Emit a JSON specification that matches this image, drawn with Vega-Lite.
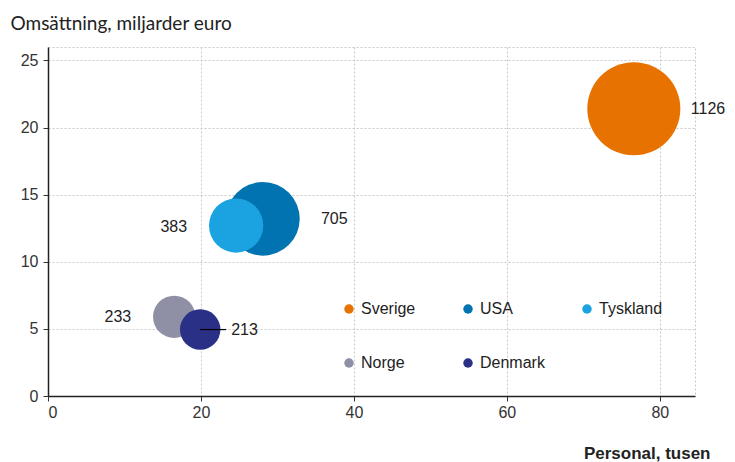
{
  "$schema": "https://vega.github.io/schema/vega-lite/v6.json",
  "width": 647,
  "height": 349,
  "autosize": "none",
  "padding": {"left": 48, "top": 47, "right": 40, "bottom": 66},
  "background": "white",
  "config": {
    "view": {"stroke": "#c8c8c8", "strokeDash": [2, 2], "strokeWidth": 1},
    "font": "Liberation Sans"
  },
  "data": {
    "values": [
      {"land": "Sverige", "personal": 76.6, "omsattning": 21.4, "storlek": 1126},
      {"land": "USA", "personal": 28.1, "omsattning": 13.2, "storlek": 705},
      {"land": "Tyskland", "personal": 24.6, "omsattning": 12.7, "storlek": 383},
      {"land": "Norge", "personal": 16.5, "omsattning": 5.9, "storlek": 233},
      {"land": "Denmark", "personal": 19.9, "omsattning": 4.95, "storlek": 213}
    ]
  },
  "encoding": {
    "x": {
      "field": "personal", "type": "quantitative",
      "scale": {"domain": [0, 84.6], "nice": false},
      "axis": {
        "values": [0, 20, 40, 60, 80],
        "title": "Personal, tusen",
        "titleFont": "Liberation Sans",
        "titleFontWeight": "bold",
        "titleFontSize": 17,
        "titleColor": "#222",
        "titleAlign": "right",
        "titleAnchor": null,
        "titleX": 662,
        "titleY": 62,
        "titleBaseline": "alphabetic",
        "labelFont": "Liberation Sans",
        "labelFontSize": 16,
        "labelColor": "#333",
        "labelPadding": 3,
        "tickSize": 5,
        "tickColor": "#333",
        "domainColor": "#222",
        "domainWidth": 1.5,
        "grid": true,
        "gridColor": "#c8c8c8",
        "gridDash": [2, 2]
      }
    },
    "y": {
      "field": "omsattning", "type": "quantitative",
      "scale": {"domain": [0, 26], "nice": false},
      "axis": {
        "values": [0, 5, 10, 15, 20, 25],
        "title": "Omsättning, miljarder euro",
        "titleFont": "Lato",
        "titleFontWeight": "normal",
        "titleFontSize": 19,
        "titleColor": "#222",
        "titleAngle": 0,
        "titleAlign": "left",
        "titleAnchor": null,
        "titleX": -38,
        "titleY": -18,
        "titleBaseline": "alphabetic",
        "labelFont": "Liberation Sans",
        "labelFontSize": 16,
        "labelColor": "#333",
        "labelPadding": 5,
        "tickSize": 5,
        "tickColor": "#333",
        "domainColor": "#222",
        "domainWidth": 1.5,
        "grid": true,
        "gridColor": "#c8c8c8",
        "gridDash": [2, 2]
      }
    }
  },
  "layer": [
    {
      "mark": {"type": "circle", "opacity": 1, "strokeWidth": 0},
      "encoding": {
        "size": {
          "field": "storlek", "type": "quantitative",
          "scale": {"domain": [0, 1126], "range": [0, 8660], "zero": true},
          "legend": null
        },
        "color": {
          "field": "land", "type": "nominal",
          "scale": {
            "domain": ["Sverige", "USA", "Tyskland", "Norge", "Denmark"],
            "range": ["#e87200", "#0073b0", "#1aa3e0", "#8f90a6", "#2a3085"]
          },
          "legend": {
            "title": null,
            "orient": "none",
            "direction": "horizontal",
            "legendX": 293,
            "legendY": 254,
            "columns": 3,
            "gridAlign": "all",
            "columnPadding": 34,
            "rowPadding": 38,
            "padding": 0,
            "symbolType": "circle",
            "symbolSize": 90,
            "symbolStrokeWidth": 0,
            "symbolOpacity": 1,
            "labelFont": "Liberation Sans",
            "labelFontSize": 16,
            "labelColor": "#222",
            "labelOffset": 4
          }
        },
        "order": {"field": "omsattning", "sort": "descending"}
      }
    },
    {
      "transform": [{"filter": "datum.land == 'Denmark'"}],
      "mark": {"type": "rule", "color": "#000", "strokeWidth": 1.2, "x2Offset": 26},
      "encoding": {"x2": {"field": "personal"}}
    },
    {
      "transform": [{"filter": "datum.land == 'Sverige'"}],
      "mark": {"type": "text", "align": "left", "baseline": "middle", "dx": 57, "fontSize": 16, "color": "#222"},
      "encoding": {"text": {"field": "storlek"}}
    },
    {
      "transform": [{"filter": "datum.land == 'USA'"}],
      "mark": {"type": "text", "align": "left", "baseline": "middle", "dx": 58, "fontSize": 16, "color": "#222"},
      "encoding": {"text": {"field": "storlek"}}
    },
    {
      "transform": [{"filter": "datum.land == 'Tyskland'"}],
      "mark": {"type": "text", "align": "right", "baseline": "middle", "dx": -49, "dy": 1, "fontSize": 16, "color": "#222"},
      "encoding": {"text": {"field": "storlek"}}
    },
    {
      "transform": [{"filter": "datum.land == 'Norge'"}],
      "mark": {"type": "text", "align": "right", "baseline": "middle", "dx": -43, "fontSize": 16, "color": "#222"},
      "encoding": {"text": {"field": "storlek"}}
    },
    {
      "transform": [{"filter": "datum.land == 'Denmark'"}],
      "mark": {"type": "text", "align": "left", "baseline": "middle", "dx": 31, "fontSize": 16, "color": "#222"},
      "encoding": {"text": {"field": "storlek"}}
    }
  ]
}
